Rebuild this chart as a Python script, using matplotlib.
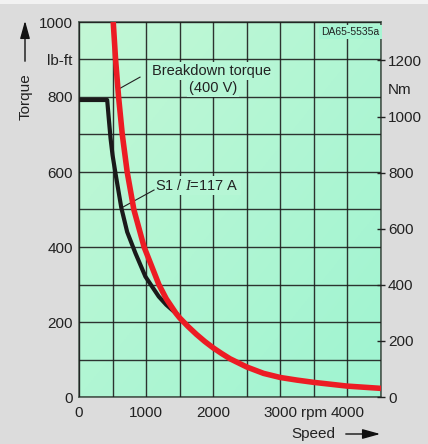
import numpy as np
import matplotlib
matplotlib.use("Agg")
import matplotlib.pyplot as plt
from matplotlib.colors import LinearSegmentedColormap
from matplotlib.ticker import MultipleLocator

plt.rcParams['font.family'] = ['Liberation Sans', 'DejaVu Sans']
plt.rcParams['mathtext.fontset'] = 'custom'
plt.rcParams['mathtext.rm'] = 'Liberation Sans'
plt.rcParams['mathtext.it'] = 'Liberation Serif:italic'

# breakdown torque (400 V)
bd_speed = [510, 545, 590, 645, 718, 817, 970, 1190, 1300, 1446, 1500, 1625, 1750, 1875,
            2000, 2125, 2250, 2500, 2750, 3000, 3250, 3500, 3750, 4000, 4250, 4500]
bd_torque = [1000, 900, 800, 700, 600, 500, 400, 300, 262, 223, 211, 188, 167, 148,
             131, 116, 102, 80, 63, 52, 45, 39, 34, 29, 26, 23]

# S1 continuous torque, I = 117 A
s1_speed = [0, 420, 445, 470, 500, 545, 630, 718, 842, 990, 1188, 1300, 1446]
s1_torque = [792, 792, 740, 690, 645, 595, 505, 440, 383, 321, 268, 246, 223]

x_ticks = [0, 1000, 2000, 3000, 3500, 4000]
x_labels = ['0', '1000', '2000', '3000', 'rpm', '4000']
y_ticks = [0, 200, 400, 600, 800, 900, 1000]
y_labels = ['0', '200', '400', '600', '800', 'lb-ft', '1000']
nm_ticks = [0, 200, 400, 600, 800, 1000, 1100, 1200]
nm_labels = ['0', '200', '400', '600', '800', '1000', 'Nm', '1200']
NM_TOP = 1337  # Nm value at the top of the chart, as drawn in the reference

fig = plt.figure(figsize=(4.28, 4.44), dpi=100)
fig.patch.set_facecolor('#dcdcdc')
fig.add_artist(plt.Rectangle((0, 1 - 4 / 444), 1, 4 / 444, transform=fig.transFigure,
                             facecolor='#f2f2f2', edgecolor='none'))

ax = fig.add_axes([79 / 428, 47 / 444, 302 / 428, 375 / 444])
ax.set_xlim(0, 4500)
ax.set_ylim(0, 1000)

# mint background gradient, light top-left to aqua bottom-right
cmap = LinearSegmentedColormap.from_list('mint', ['#c3f8d6', '#9ff4d1'])
gx, gy = np.meshgrid(np.linspace(0, 1, 200), np.linspace(0, 1, 200))
ax.imshow((gx + gy) / 2, cmap=cmap, extent=(0, 4500, 0, 1000), origin='upper',
          aspect='auto', zorder=0, vmin=0, vmax=1)

ax.xaxis.set_minor_locator(MultipleLocator(500))
ax.yaxis.set_minor_locator(MultipleLocator(100))
ax.grid(which='both', color='#1e1e1e', lw=1.0, alpha=0.9, zorder=1)
ax.set_axisbelow(False)

ax.set_xticks(x_ticks)
ax.set_xticklabels(x_labels)
ax.set_yticks(y_ticks)
ax.set_yticklabels(y_labels)
ax.tick_params(which='both', length=0, labelsize=11, colors='#222222')
ax.tick_params(axis='x', pad=6.5)
ax.tick_params(axis='y', pad=4.5)
for s in ax.spines.values():
    s.set_color('#4a5a50')
    s.set_linewidth(1.2)

ax.plot(s1_speed, s1_torque, color='#1a1a1a', lw=3, zorder=4, solid_joinstyle='round')
ax.plot(bd_speed, bd_torque, color='#ec1c24', lw=4, zorder=5, solid_capstyle='butt',
        solid_joinstyle='round')

bg = dict(facecolor='#b6f6d5', edgecolor='none', pad=1.5)
ax.text(1982, 869, 'Breakdown torque', ha='center', va='center', fontsize=10.5,
        color='#222222', bbox=bg, zorder=3)
ax.text(1997, 825, '(400 V)', ha='center', va='center', fontsize=10.5,
        color='#222222', bbox=bg, zorder=3)
ax.plot([909, 600], [853, 822], color='#222222', lw=0.8, zorder=3)

ax.text(1135, 565, 'S1 / $I$=117 A', ha='left', va='center', fontsize=10.5,
        color='#222222', bbox=bg, zorder=3)
ax.plot([1118, 640], [552, 505], color='#222222', lw=0.8, zorder=3)

ax.text(4480, 973, 'DA65-5535a', ha='right', va='center', fontsize=7.5,
        color='#222222', bbox=dict(facecolor='#a8f5d3', edgecolor='none', pad=1.5), zorder=3)

ax2 = ax.twinx()
ax2.set_ylim(0, NM_TOP)
ax2.set_yticks(nm_ticks)
ax2.set_yticklabels(nm_labels)
ax2.tick_params(axis='y', direction='inout', length=6, width=1, colors='#222222',
                labelsize=11, pad=2)
ax2.yaxis.get_major_ticks()[nm_ticks.index(1100)].tick2line.set_visible(False)
for s in ax2.spines.values():
    s.set_visible(False)

# axis titles with arrows
fig.text(25.5 / 428, 1 - 97 / 444, 'Torque', rotation=90, ha='center', va='center',
         fontsize=11, color='#222222')
fig.add_artist(matplotlib.patches.FancyArrowPatch(
    (25 / 428, 1 - 64 / 444), (25 / 428, 1 - 18 / 444), transform=fig.transFigure,
    arrowstyle='-|>,head_length=0.9,head_width=0.25', mutation_scale=12,
    color='#111111', lw=1))
fig.text(313.5 / 428, 1 - 434 / 444, 'Speed', ha='center', va='center',
         fontsize=11, color='#222222')
fig.add_artist(matplotlib.patches.FancyArrowPatch(
    (343 / 428, 1 - 434 / 444), (383 / 428, 1 - 434 / 444), transform=fig.transFigure,
    arrowstyle='-|>,head_length=0.9,head_width=0.25', mutation_scale=12,
    color='#111111', lw=1))

fig.savefig('out.png', dpi=100, facecolor=fig.get_facecolor())
